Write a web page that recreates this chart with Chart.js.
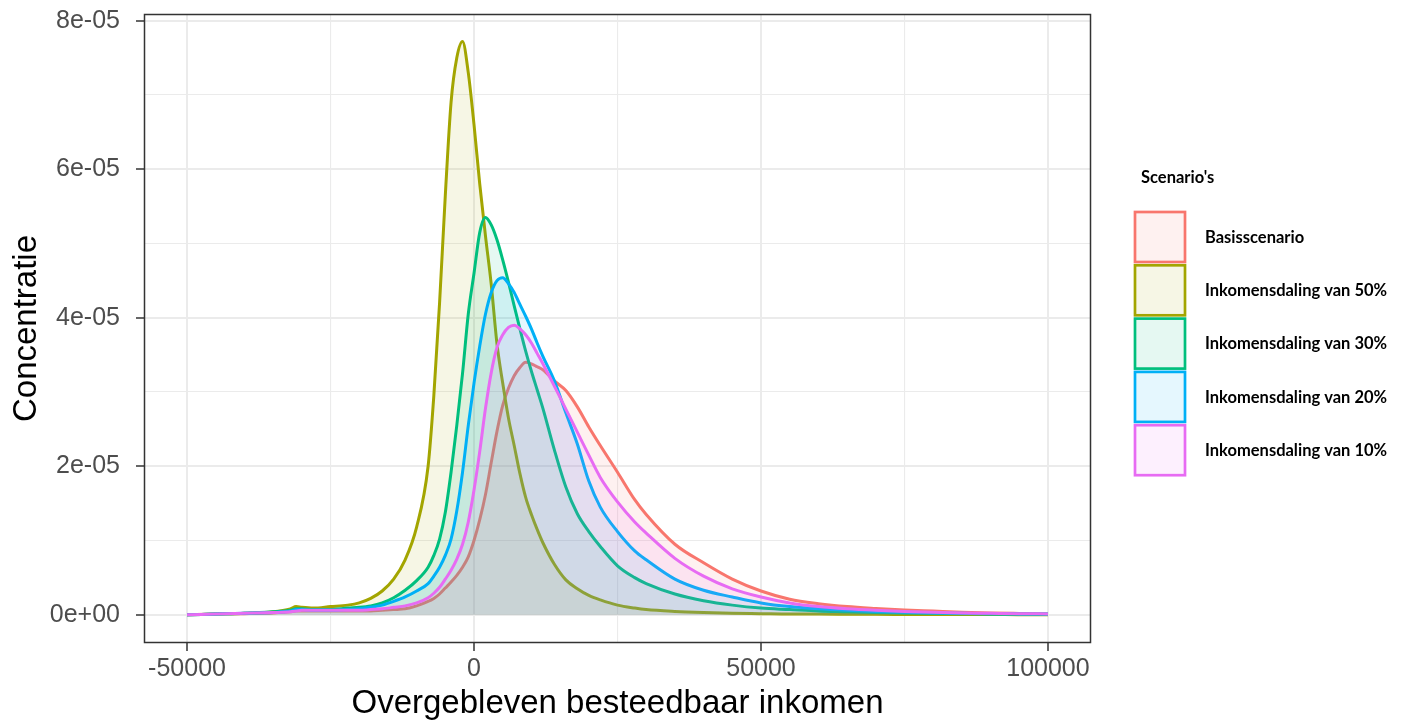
<!DOCTYPE html>
<html>
<head>
<meta charset="utf-8">
<title>Overgebleven besteedbaar inkomen</title>
<script src="https://cdn.jsdelivr.net/npm/chart.js@4.4.1/dist/chart.umd.min.js"></script>
<style>
  html, body { margin: 0; padding: 0; background: #fff; }
  #wrap { width: 1405px; height: 725px; }
</style>
</head>
<body>
<div id="wrap"><canvas id="chart" width="1405" height="725"></canvas></div>
<script>
// --- Data: density per scenario, in units of 1e-5 ---
const UNIT = 1e-5;
const incomes = [
  -50000, -45000, -40000, -35000, -32000, -31000, -30000, -28000, -25000, -22000,
  -20000, -18000, -16000, -14000, -12000, -10000, -8000, -7000, -6000, -5000,
  -4000, -3000, -2000, -1000, 0, 1000, 2000, 3000, 4000, 5000,
  6000, 7000, 8000, 9000, 10000, 11000, 12000, 14000, 16000, 18000,
  20000, 22000, 25000, 28000, 30000, 35000, 40000, 45000, 50000, 55000,
  60000, 65000, 70000, 75000, 80000, 85000, 90000, 95000, 100000
];
const basis = [
  0.00, 0.01, 0.015, 0.025, 0.04, 0.05, 0.05, 0.05, 0.05, 0.05,
  0.05, 0.05, 0.06, 0.07, 0.08, 0.12, 0.18, 0.22, 0.28, 0.36,
  0.44, 0.53, 0.64, 0.78, 1.00, 1.28, 1.62, 2.05, 2.47, 2.82,
  3.05, 3.22, 3.33, 3.40, 3.38, 3.34, 3.30, 3.15, 3.02, 2.80,
  2.53, 2.28, 1.92, 1.55, 1.35, 0.95, 0.70, 0.48, 0.32, 0.21,
  0.15, 0.11, 0.085, 0.065, 0.05, 0.035, 0.025, 0.018, 0.012
];
const daling50 = [
  0.00, 0.01, 0.02, 0.04, 0.08, 0.11, 0.10, 0.09, 0.11, 0.13,
  0.16, 0.22, 0.32, 0.48, 0.74, 1.18, 2.00, 2.95, 4.20, 5.65,
  6.90, 7.50, 7.72, 7.30, 6.60, 5.80, 5.10, 4.45, 3.65, 3.12,
  2.65, 2.28, 1.90, 1.58, 1.35, 1.15, 0.97, 0.68, 0.47, 0.35,
  0.26, 0.20, 0.13, 0.09, 0.07, 0.045, 0.03, 0.02, 0.015, 0.01,
  0.01, 0.008, 0.006, 0.005, 0.004, 0.003, 0.003, 0.002, 0.002
];
const daling30 = [
  0.00, 0.01, 0.02, 0.04, 0.06, 0.08, 0.08, 0.07, 0.07, 0.09,
  0.10, 0.12, 0.16, 0.23, 0.33, 0.46, 0.64, 0.80, 1.02, 1.38,
  1.92, 2.55, 3.25, 4.05, 4.60, 5.15, 5.35, 5.25, 5.05, 4.78,
  4.48, 4.16, 3.85, 3.55, 3.28, 3.03, 2.78, 2.22, 1.72, 1.36,
  1.12, 0.92, 0.66, 0.50, 0.42, 0.28, 0.19, 0.13, 0.09, 0.07,
  0.05, 0.04, 0.03, 0.025, 0.02, 0.015, 0.01, 0.008, 0.006
];
const daling20 = [
  0.00, 0.01, 0.02, 0.03, 0.05, 0.07, 0.07, 0.06, 0.06, 0.07,
  0.08, 0.10, 0.13, 0.18, 0.24, 0.32, 0.42, 0.52, 0.64, 0.80,
  1.02, 1.40, 1.92, 2.55, 3.12, 3.62, 4.05, 4.34, 4.50, 4.54,
  4.46, 4.34, 4.18, 4.02, 3.85, 3.66, 3.48, 3.15, 2.72, 2.30,
  1.80, 1.45, 1.12, 0.86, 0.74, 0.48, 0.33, 0.24, 0.16, 0.11,
  0.08, 0.06, 0.045, 0.035, 0.025, 0.02, 0.015, 0.012, 0.01
];
const daling10 = [
  0.00, 0.01, 0.02, 0.03, 0.04, 0.05, 0.06, 0.06, 0.06, 0.06,
  0.06, 0.07, 0.08, 0.10, 0.12, 0.16, 0.23, 0.29, 0.37, 0.48,
  0.60, 0.75, 0.95, 1.25, 1.68, 2.20, 2.78, 3.26, 3.60, 3.77,
  3.87, 3.90, 3.85, 3.77, 3.66, 3.52, 3.38, 3.08, 2.77, 2.46,
  2.15, 1.85, 1.52, 1.25, 1.10, 0.76, 0.52, 0.35, 0.24, 0.16,
  0.11, 0.08, 0.06, 0.045, 0.035, 0.025, 0.02, 0.015, 0.012
];
const scenarioNames = [
  'Basisscenario', 'Inkomensdaling van 50%', 'Inkomensdaling van 30%',
  'Inkomensdaling van 20%', 'Inkomensdaling van 10%'
];
const scenarioValues = [basis, daling50, daling30, daling20, daling10];
const scenarioColors = ['#F8766D', '#A3A500', '#00BF7D', '#00B0F6', '#E76BF3'];

const xMajor = [-50000, 0, 50000, 100000];
const xMinor = [-25000, 25000, 75000];
const yMajor = [0, 2e-5, 4e-5, 6e-5, 8e-5];
const yMinor = [1e-5, 3e-5, 5e-5, 7e-5];

// --- Helpers ---
function withAlpha(hex, a) {
  const n = parseInt(hex.slice(1), 16);
  return `rgba(${n >> 16}, ${(n >> 8) & 255}, ${n & 255}, ${a})`;
}
function expLabel(v) {
  // 8e-5 -> 8e-05, 0 -> 0e+00
  return v.toExponential(0).replace(/e([+-])(\d)$/, 'e$10$2');
}
function tickList(major, minor) {
  return [...major, ...minor].sort((a, b) => a - b).map(v => ({ value: v }));
}
function gridFor(major) {
  return {
    color: '#EBEBEB',
    lineWidth: c => (c.tick && major.includes(c.tick.value)) ? 2 : 1.1,
    tickColor: c => (c.tick && major.includes(c.tick.value)) ? '#333333' : 'rgba(0,0,0,0)',
    tickLength: 8,
    tickWidth: 1.5
  };
}

// --- Plugins: panel border and legend ---
const panelBorder = {
  id: 'panelBorder',
  afterDatasetsDraw(chart) {
    const { ctx, chartArea: a } = chart;
    ctx.save();
    ctx.strokeStyle = '#333333';
    ctx.lineWidth = 1.5;
    ctx.strokeRect(a.left + 0.5, a.top + 0.5, a.right - a.left - 1, a.bottom - a.top - 1);
    ctx.restore();
  }
};

const scenarioLegend = {
  id: 'scenarioLegend',
  afterDraw(chart) {
    const ctx = chart.ctx;
    ctx.save();
    ctx.font = 'bold 16.5px Lato, "Open Sans", sans-serif';
    ctx.textBaseline = 'middle';
    ctx.fillStyle = '#000';
    ctx.fillText("Scenario's", 1141, 178);
    chart.data.datasets.forEach((ds, i) => {
      const top = 212 + i * 53.3;
      ctx.fillStyle = '#fff';
      ctx.fillRect(1135, top, 50, 50);
      ctx.fillStyle = ds.backgroundColor;
      ctx.fillRect(1135, top, 50, 50);
      ctx.strokeStyle = ds.borderColor;
      ctx.lineWidth = 2.7;
      ctx.strokeRect(1135, top, 50, 50);
      ctx.fillStyle = '#000';
      ctx.fillText(ds.label, 1205, top + 25.5);
    });
    ctx.restore();
  }
};

// --- Chart ---
Chart.defaults.font.family = '"Liberation Sans", Arial, sans-serif';

const datasets = scenarioNames.map((name, i) => ({
  label: name,
  data: incomes.map((x, j) => ({ x, y: scenarioValues[i][j] * UNIT })),
  borderColor: scenarioColors[i],
  backgroundColor: withAlpha(scenarioColors[i], 0.1),
  fill: 'origin',
  borderWidth: 3,
  borderJoinStyle: 'round',
  pointRadius: 0,
  cubicInterpolationMode: 'monotone',
  order: scenarioNames.length - i
}));

new Chart(document.getElementById('chart'), {
  type: 'line',
  data: { datasets },
  options: {
    responsive: false,
    animation: false,
    devicePixelRatio: 1,
    layout: { padding: { top: 14, right: 314, left: 0, bottom: 0 } },
    plugins: { legend: { display: false }, tooltip: { enabled: false } },
    scales: {
      x: {
        type: 'linear',
        min: -57500,
        max: 107500,
        afterBuildTicks: s => { s.ticks = tickList(xMajor, xMinor); },
        afterFit: s => { s.height = 82; s.paddingLeft = 0; s.paddingRight = 0; },
        grid: gridFor(xMajor),
        border: { display: false },
        ticks: {
          autoSkip: false,
          maxRotation: 0,
          padding: 3,
          color: '#4D4D4D',
          font: { size: 25 },
          callback: v => xMajor.includes(v) ? String(v) : ''
        },
        title: {
          display: true,
          text: 'Overgebleven besteedbaar inkomen',
          color: '#000',
          font: { size: 33 },
          padding: { top: 0, bottom: 1 }
        }
      },
      y: {
        type: 'linear',
        min: -0.38e-5,
        max: 8.09e-5,
        afterBuildTicks: s => { s.ticks = tickList(yMajor, yMinor); },
        afterFit: s => { s.width = 144; s.paddingTop = 0; s.paddingBottom = 0; },
        grid: gridFor(yMajor),
        border: { display: false },
        ticks: {
          autoSkip: false,
          padding: 16,
          color: '#4D4D4D',
          font: { size: 25 },
          callback: v => yMajor.includes(v) ? expLabel(v) : ''
        },
        title: {
          display: true,
          text: 'Concentratie',
          color: '#000',
          font: { size: 33 },
          padding: { top: 7, bottom: 0 }
        }
      }
    }
  },
  plugins: [panelBorder, scenarioLegend]
});
</script>
</body>
</html>
